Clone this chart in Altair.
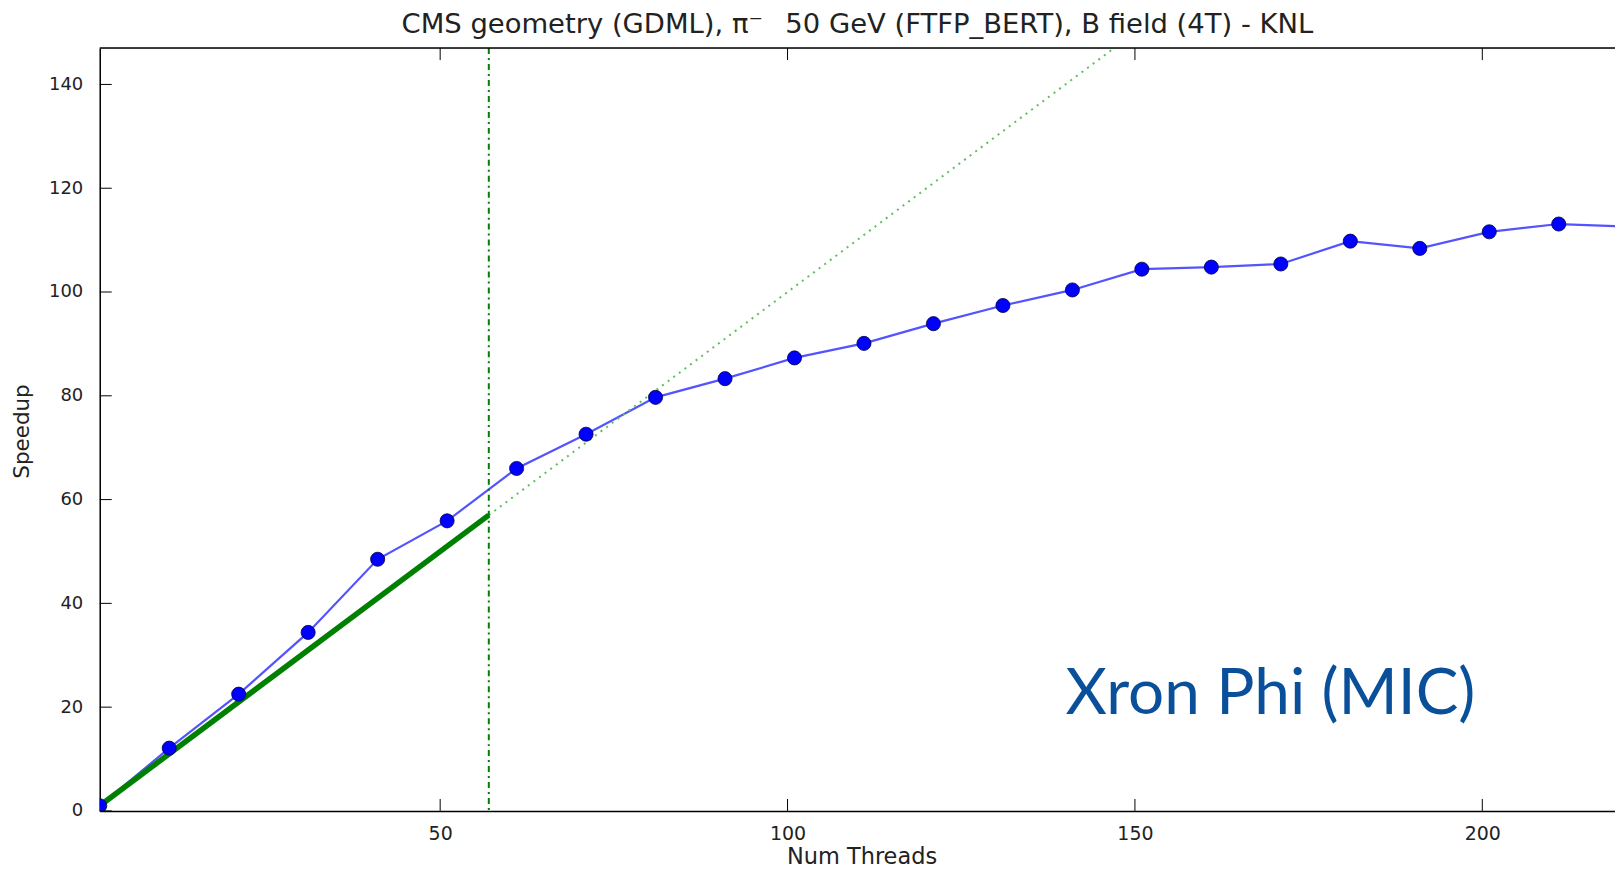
import altair as alt
import pandas as pd

threads = [1, 11, 21, 31, 41, 51, 61, 71, 81, 91, 101, 111, 121, 131, 141, 151,
           161, 171, 181, 191, 201, 211, 221]
speedup = [1.0, 12.1, 22.5, 34.4, 48.5, 55.9, 66.0, 72.6, 79.7, 83.3, 87.3, 90.1,
           93.9, 97.4, 100.4, 104.4, 104.8, 105.4, 109.8, 108.4, 111.6, 113.1, 112.6]
ideal_solid_x = [1, 57]
ideal_dotted_x = [57, 147]
vline_x = [57]
x_ticks = [50, 100, 150, 200]
y_ticks = [0, 20, 40, 60, 80, 100, 120, 140]
annotation = ["Xron Phi (MIC)"]
annot_pos = [(140, 18.7)]
title_text = "CMS geometry (GDML), \u03c0\u207b\u2002 50 GeV (FTFP_BERT), B field (4T) - KNL"

X_DOMAIN = [1, 219.1]
Y_DOMAIN = [0, 147.0]
W = 1519.6
H = 765.0

df = pd.DataFrame({"x": threads, "y": speedup})
df_solid = pd.DataFrame({"x": ideal_solid_x, "y": ideal_solid_x})
df_dot = pd.DataFrame({"x": ideal_dotted_x, "y": ideal_dotted_x})
df_v = pd.DataFrame({"x": vline_x})
df_xt = pd.DataFrame({"x": x_ticks})
df_yt = pd.DataFrame({"y": y_ticks})
df_txt = pd.DataFrame({"t": annotation, "x": [p[0] for p in annot_pos], "y": [p[1] for p in annot_pos]})

xs = alt.Scale(domain=X_DOMAIN, nice=False, zero=False)
ys = alt.Scale(domain=Y_DOMAIN, nice=False, zero=False)

x_axis = alt.Axis(values=x_ticks, grid=False, ticks=False, tickSize=0, labelPadding=14,
                  labelFontSize=19, labelFont="DejaVu Sans", labelColor="#222",
                  domainColor="black", domainWidth=1.5, title="Num Threads",
                  titleFontSize=22.5, titleFont="DejaVu Sans", titleFontWeight="normal",
                  titleColor="#222", titleBaseline="alphabetic", titleY=53, titleX=764)
y_axis = alt.Axis(values=y_ticks, grid=False, ticks=False, tickSize=0, labelPadding=17,
                  labelFontSize=18, labelFont="DejaVu Sans", labelColor="#222",
                  domainColor="black", domainWidth=1.5, title="Speedup",
                  titleFontSize=21.5, titleFont="DejaVu Sans", titleFontWeight="normal",
                  titleColor="#222", titleBaseline="alphabetic", titleAngle=-90,
                  titleX=-71, titleY=384, titleAlign="center")

X = alt.X("x:Q", scale=xs, axis=x_axis)
Y = alt.Y("y:Q", scale=ys, axis=y_axis)

blue_line = alt.Chart(df).mark_line(clip=True, color="#1a1aff", strokeWidth=2.2, opacity=0.75).encode(x=X, y=Y)
blue_pts = alt.Chart(df).mark_circle(clip=True, color="#0000ff", size=200, opacity=1,
                                     stroke="#000040", strokeWidth=0.8).encode(x=X, y=Y)
solid = alt.Chart(df_solid).mark_line(clip=True, color="#008000", strokeWidth=5.5).encode(x=X, y=Y)
dotted = alt.Chart(df_dot).mark_line(clip=True, color="#5cbf5c", strokeWidth=2,
                                     strokeDash=[2, 5]).encode(x=X, y=Y)
vline = alt.Chart(df_v).mark_rule(color="#008000", strokeWidth=2,
                                  strokeDash=[6, 4, 2, 4]).encode(x=X)
top_border = alt.Chart(df_v).mark_rule(color="black", strokeWidth=1.5).encode(y=alt.value(0))
xt_bottom = alt.Chart(df_xt).mark_rule(color="black", strokeWidth=1).encode(
    x=X, y=alt.value(H), y2=alt.value(H - 12))
xt_top = alt.Chart(df_xt).mark_rule(color="black", strokeWidth=1).encode(
    x=X, y=alt.value(0), y2=alt.value(12))
yt_left = alt.Chart(df_yt).mark_rule(color="black", strokeWidth=1).encode(
    y=Y, x=alt.value(0), x2=alt.value(12))
txt = alt.Chart(df_txt).mark_text(align="left", baseline="alphabetic", font="Lato",
                                  fontSize=64, color="#0a4f9a").encode(x=X, y=Y, text="t:N")

chart = alt.layer(blue_line, solid, dotted, vline, blue_pts, top_border,
                  xt_bottom, xt_top, yt_left, txt).properties(
    width=W, height=H,
    autosize=alt.AutoSizeParams(type="none"),
    padding={"left": 92, "top": 39, "right": 0, "bottom": 58},
    title=alt.TitleParams(text=title_text,
                          font="DejaVu Sans", fontSize=27.5, fontWeight="normal", color="#222",
                          anchor="middle", baseline="alphabetic", offset=15, frame="group",
                          dy=28),
).configure_view(stroke=None).configure(background="white")

chart.save("out.html", embed_options={"renderer": "svg", "actions": False})
